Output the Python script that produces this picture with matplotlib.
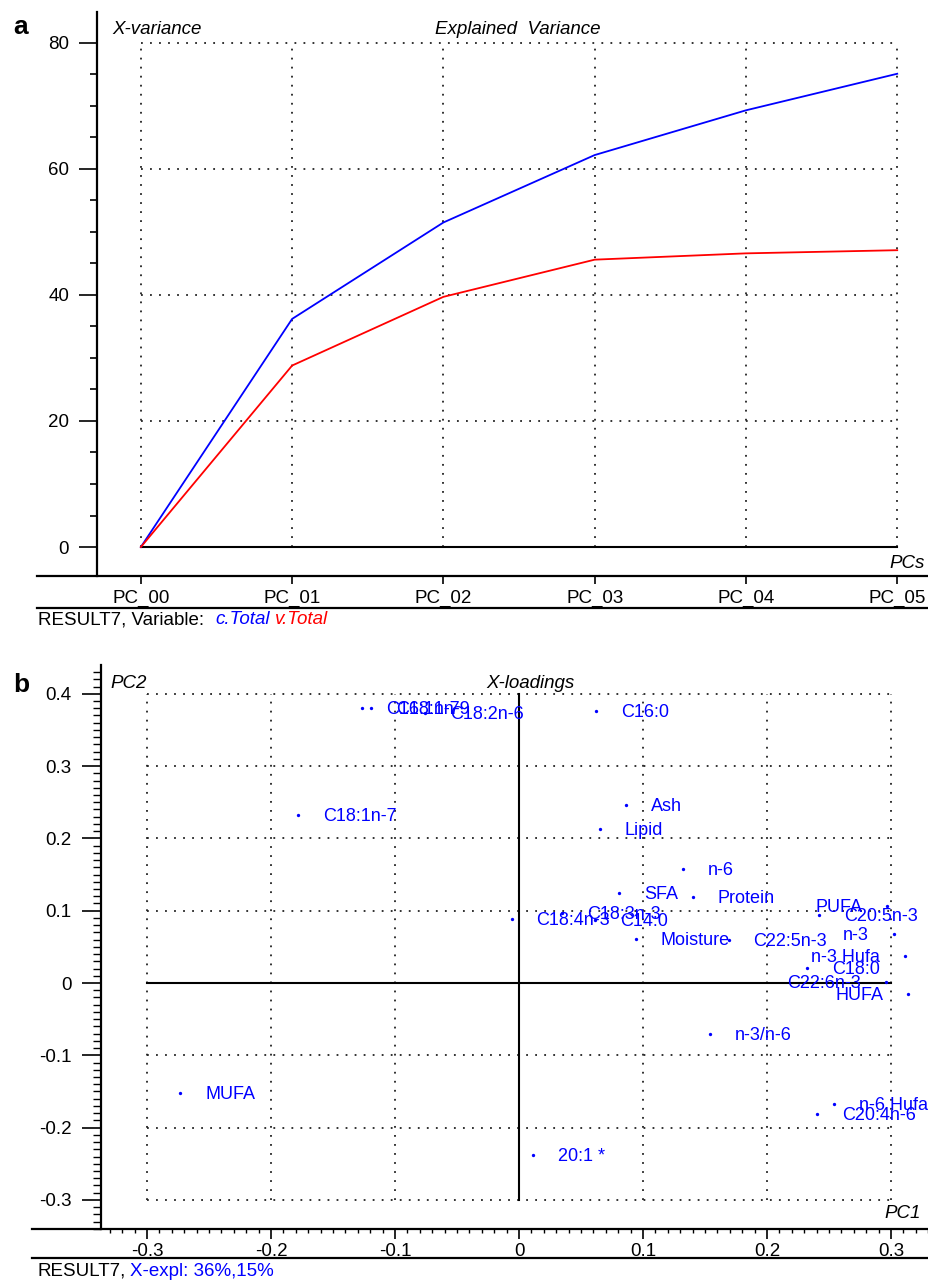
import matplotlib
matplotlib.use('Agg')
import matplotlib.pyplot as plt
from matplotlib.lines import Line2D
from matplotlib.ticker import MultipleLocator

plt.rcParams['font.family'] = ['Liberation Sans', 'DejaVu Sans']

# panel a: explained variance per PC
pcs = ['PC_00', 'PC_01', 'PC_02', 'PC_03', 'PC_04', 'PC_05']
c_total = [0, 36.2, 51.5, 62.2, 69.3, 75.1]
v_total = [0, 28.8, 39.7, 45.6, 46.6, 47.1]

# panel b: x-loadings PC1 / PC2
names = ['C16:1n-7', 'C18:1n-9', 'C18:2n-6', 'C16:0', 'C18:1n-7', 'Ash', 'Lipid',
         'n-6', 'SFA', 'Protein', 'C18:4n-3', 'C18:3n-3', 'C14:0', 'Moisture',
         'C22:5n-3', 'C20:5n-3', 'PUFA', 'n-3', 'n-3 Hufa', 'C18:0', 'C22:6n-3',
         'HUFA', 'n-3/n-6', 'MUFA', 'n-6 Hufa', 'C20:4n-6', '20:1 *']
pc1 = [-0.127, -0.119, -0.076, 0.062, -0.178, 0.086, 0.065,
       0.132, 0.081, 0.140, -0.006, 0.035, 0.061, 0.094,
       0.169, 0.242, 0.297, 0.302, 0.311, 0.232, 0.296,
       0.314, 0.154, -0.273, 0.254, 0.240, 0.011]
pc2 = [0.380, 0.380, 0.373, 0.376, 0.232, 0.246, 0.213,
       0.158, 0.124, 0.119, 0.089, 0.097, 0.087, 0.061,
       0.059, 0.094, 0.107, 0.068, 0.037, 0.021, 0.001,
       -0.015, -0.071, -0.152, -0.167, -0.181, -0.238]
# labels that would run past the right edge are put on the left of the dot
left_labels = {'PUFA', 'n-3', 'n-3 Hufa', 'C22:6n-3', 'HUFA'}

W, H = 929, 1281
fig = plt.figure(figsize=(W / 100, H / 100), dpi=100)
FS = 13.5


def px_axes(l, t, r, b):
    return fig.add_axes([l / W, 1 - b / H, (r - l) / W, (b - t) / H])


def fig_line(x0, x1, y, lw=1.6):
    fig.add_artist(Line2D([x0 / W, x1 / W], [1 - y / H, 1 - y / H],
                          transform=fig.transFigure, color='black', lw=lw))


def fig_text(x, y, s, **kw):
    return fig.text(x / W, 1 - y / H, s, **kw)


dots = (0, (1, 4))
gridc = '#222222'

# ---------------- panel a ----------------
ax1 = px_axes(97, 12, 929, 576)
xs = list(range(len(pcs)))
ax1.set_xlim(-0.29, 5.21)
ax1.set_ylim(-4.6, 84.9)
ax1.hlines([20, 40, 60, 80], xs[0], xs[-1], colors=gridc, linestyles=dots, lw=1.3)
ax1.vlines(xs, 0, 80, colors=gridc, linestyles=dots, lw=1.3)
ax1.plot([xs[0], xs[-1]], [0, 0], color='black', lw=1.5)
ax1.plot(xs, c_total, color='blue', lw=1.3)
ax1.plot(xs, v_total, color='red', lw=1.3)

for s in ['top', 'right', 'bottom']:
    ax1.spines[s].set_visible(False)
ax1.spines['left'].set_linewidth(1.6)
ax1.set_xticks(xs)
ax1.set_xticklabels(pcs, fontsize=FS)
ax1.yaxis.set_major_locator(MultipleLocator(20))
ax1.yaxis.set_minor_locator(MultipleLocator(5))
ax1.tick_params(axis='y', which='major', length=13, width=1.2, pad=7, labelsize=FS)
ax1.tick_params(axis='y', which='minor', length=5, width=1.2)
ax1.tick_params(axis='x', which='major', length=6, width=1.2, pad=4)

fig_line(37, 929, 576)
fig_line(37, 929, 608)
fig_text(13, 27, 'a', fontsize=19, fontweight='bold', va='center')
fig_text(112, 30, 'X-variance', fontsize=FS, style='italic', va='center')
fig_text(518, 30, 'Explained  Variance', fontsize=FS, style='italic', va='center', ha='center')
fig_text(925, 563, 'PCs', fontsize=FS, style='italic', va='center', ha='right')
t = fig_text(38, 620, 'RESULT7, Variable:', fontsize=FS, va='center')
ann = plt.annotate('c.Total', xy=(1, 0), xycoords=t, xytext=(8, 0),
                   textcoords='offset points', fontsize=FS, style='italic',
                   color='blue', va='bottom')
plt.annotate('v.Total', xy=(1, 0), xycoords=ann, xytext=(4, 0),
             textcoords='offset points', fontsize=FS, style='italic',
             color='red', va='bottom')

# ---------------- panel b ----------------
ax2 = px_axes(101, 665, 929, 1229)
ax2.set_xlim(-0.3371, 0.3306)
ax2.set_ylim(-0.3402, 0.4398)
gx = [-0.3, -0.2, -0.1, 0.1, 0.2, 0.3]
gy = [-0.3, -0.2, -0.1, 0.1, 0.2, 0.3, 0.4]
ax2.hlines(gy, -0.3, 0.3, colors=gridc, linestyles=dots, lw=1.3)
ax2.vlines(gx, -0.3, 0.4, colors=gridc, linestyles=dots, lw=1.3)
ax2.plot([-0.3, 0.3], [0, 0], color='black', lw=1.5)
ax2.plot([0, 0], [-0.3, 0.4], color='black', lw=1.5)
ax2.plot(pc1, pc2, 'o', ms=2.4, color='blue', mew=0)
for n, x, y in zip(names, pc1, pc2):
    if n in left_labels:
        ax2.annotate(n, (x, y), xytext=(-18, -1), textcoords='offset points',
                     ha='right', va='center', fontsize=13, color='blue')
    else:
        ax2.annotate(n, (x, y), xytext=(18, -1), textcoords='offset points',
                     ha='left', va='center', fontsize=13, color='blue')

for s in ['top', 'right', 'bottom']:
    ax2.spines[s].set_visible(False)
ax2.spines['left'].set_linewidth(1.6)
ax2.xaxis.set_minor_locator(MultipleLocator(0.01))
ax2.yaxis.set_minor_locator(MultipleLocator(0.01))
ax2.set_xticks([-0.3, -0.2, -0.1, 0, 0.1, 0.2, 0.3])
ax2.set_xticklabels(['-0.3', '-0.2', '-0.1', '0', '0.1', '0.2', '0.3'], fontsize=FS)
ax2.set_yticks([-0.3, -0.2, -0.1, 0, 0.1, 0.2, 0.3, 0.4])
ax2.set_yticklabels(['-0.3', '-0.2', '-0.1', '0', '0.1', '0.2', '0.3', '0.4'], fontsize=FS)
ax2.tick_params(axis='y', which='major', length=14, width=1.2, pad=7)
ax2.tick_params(axis='y', which='minor', length=6, width=1.0)
ax2.tick_params(axis='x', which='major', length=7, width=1.2, pad=3)
ax2.tick_params(axis='x', which='minor', length=3, width=1.0)

fig_line(32, 929, 1229)
fig_line(32, 929, 1258)
fig_text(13, 685, 'b', fontsize=19, fontweight='bold', va='center')
fig_text(110, 684, 'PC2', fontsize=FS, style='italic', va='center')
fig_text(530, 684, 'X-loadings', fontsize=FS, style='italic', va='center', ha='center')
fig_text(921, 1214, 'PC1', fontsize=FS, style='italic', va='center', ha='right')
tb = fig_text(38, 1271, 'RESULT7,', fontsize=FS, va='center')
plt.annotate('X-expl: 36%,15%', xy=(1, 0), xycoords=tb, xytext=(3, 0),
             textcoords='offset points', fontsize=FS, color='blue', va='bottom')

fig.savefig('out.png', dpi=100)
